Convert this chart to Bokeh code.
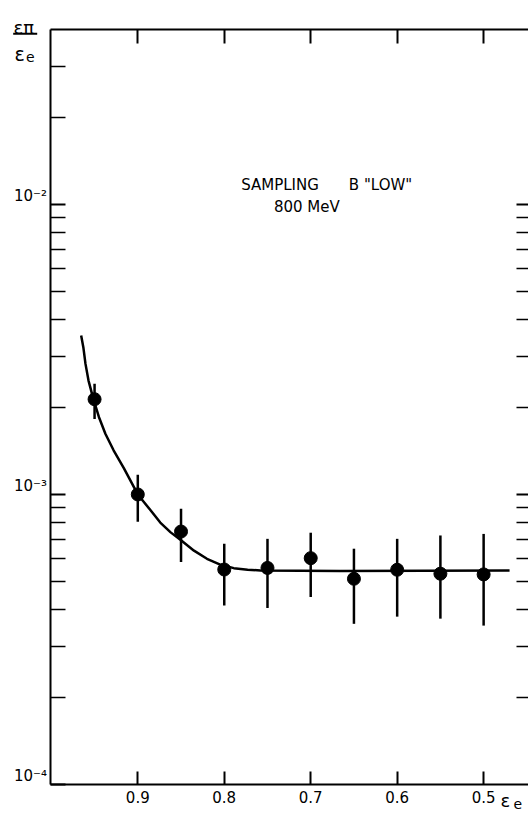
import math
from bokeh.plotting import figure
from bokeh.models import (Range1d, LinearAxis, LogAxis, FixedTicker, Label,
                          LabelSet, ColumnDataSource, CustomJSTickFormatter)
from bokeh.core.properties import value
from bokeh.embed import file_html
from bokeh.resources import INLINE

# ---------------- data ----------------
energy_frac = [0.95, 0.90, 0.85, 0.80, 0.75, 0.70, 0.65, 0.60, 0.55, 0.50]
ratio = [2.13e-3, 1.00e-3, 7.45e-4, 5.51e-4, 5.58e-4, 6.03e-4, 5.12e-4, 5.50e-4, 5.33e-4, 5.30e-4]
ratio_hi = [2.41e-3, 1.17e-3, 8.93e-4, 6.76e-4, 7.03e-4, 7.38e-4, 6.50e-4, 7.03e-4, 7.22e-4, 7.31e-4]
ratio_lo = [1.82e-3, 8.05e-4, 5.85e-4, 4.14e-4, 4.06e-4, 4.43e-4, 3.58e-4, 3.79e-4, 3.73e-4, 3.53e-4]

fit_x = [0.9655, 0.963, 0.9605, 0.957, 0.9515, 0.945, 0.9375, 0.928, 0.916, 0.900,
         0.885, 0.874, 0.862, 0.850, 0.835, 0.820, 0.804, 0.789, 0.773, 0.758, 0.666, 0.470]
fit_y = [3.53e-3, 3.22e-3, 2.82e-3, 2.47e-3, 2.14e-3, 1.85e-3, 1.62e-3, 1.42e-3, 1.23e-3, 1.00e-3,
         8.80e-4, 8.00e-4, 7.40e-4, 6.95e-4, 6.40e-4, 6.00e-4, 5.72e-4, 5.57e-4, 5.50e-4, 5.47e-4, 5.45e-4, 5.47e-4]

x_ticks = [0.9, 0.8, 0.7, 0.6, 0.5]
x_tick_labels = ["0.9", "0.8", "0.7", "0.6", "0.5"]
y_major = [1e-4, 1e-3, 1e-2]
y_tick_labels = ["10\u207b\u2074", "10\u207b\u00b3", "10\u207b\u00b2"]
y_minor_left = [2e-4, 3e-4, 4e-4, 5e-4, 6e-4, 7e-4, 8e-4, 9e-4,
                2e-3, 3e-3, 4e-3, 5e-3, 6e-3, 7e-3, 8e-3, 9e-3, 2e-2, 3e-2]
y_minor_right = [2e-4, 3e-4, 4e-4, 5e-4, 6e-4, 7e-4, 8e-4, 9e-4,
                 2e-3, 3e-3, 4e-3, 5e-3, 6e-3, 7e-3, 8e-3, 9e-3]

title_line1 = 'SAMPLING\u2003\u2003B "LOW"'
title_line2 = "800 MeV"

# ---------------- geometry ----------------
W, H = 528, 813
XL, XR = 1.0588, 0.4481        # x value at canvas left / right edge
YT, YB = 0.0505, 7.94e-5       # y value at canvas top / bottom edge
X_AXIS_LEFT = 1.0015           # where the left frame line sits
Y_BOTTOM, Y_TOP = 1e-4, 4e-2   # bottom / top frame lines
FONT = "DejaVu Sans"


def dx(px):
    return XL + px * (XR - XL) / W


def dy(py):
    lt, lb = math.log10(YT), math.log10(YB)
    return 10 ** (lt - py * (lt - lb) / H)


p = figure(width=W, height=H,
           x_range=Range1d(XL, XR), y_range=Range1d(YB, YT),
           y_axis_type="log", output_backend="svg", toolbar_location=None,
           min_border=0, min_border_left=0, min_border_right=0,
           min_border_top=0, min_border_bottom=0,
           background_fill_color="white", border_fill_color="white")
p.outline_line_color = None
p.grid.visible = False

blank = CustomJSTickFormatter(code="return ''")


def style(ax, tin, minor_in, line=True):
    ax.axis_line_color = "black" if line else None
    ax.axis_line_width = 2
    ax.major_tick_in = tin
    ax.major_tick_out = 0
    ax.major_tick_line_width = 2
    ax.major_tick_line_color = "black"
    ax.minor_tick_in = minor_in
    ax.minor_tick_out = 0
    ax.minor_tick_line_width = 1.6
    ax.minor_tick_line_color = "black"
    ax.axis_label = None


# bottom axis (with its tick labels)
xb = p.xaxis[0]
xb.ticker = FixedTicker(ticks=x_ticks, minor_ticks=[])
xb.fixed_location = Y_BOTTOM
xb.bounds = (XR, X_AXIS_LEFT)
style(xb, 13, 0)
xb.major_label_overrides = dict(zip(x_ticks, x_tick_labels))
xb.major_label_text_font = FONT
xb.major_label_text_font_size = "15px"
xb.major_label_text_color = "black"
xb.major_label_standoff = 7

# left axis (labels drawn by a LabelSet so they sit just above each tick)
yl = p.yaxis[0]
yl.ticker = FixedTicker(ticks=y_major, minor_ticks=y_minor_left)
yl.fixed_location = X_AXIS_LEFT
yl.bounds = (Y_BOTTOM, Y_TOP)
style(yl, 15, 15)
yl.formatter = blank
yl.major_label_text_color = None

# top axis
xt = LinearAxis(ticker=FixedTicker(ticks=x_ticks, minor_ticks=[]),
                fixed_location=Y_TOP, bounds=(XR, X_AXIS_LEFT), formatter=blank)
style(xt, 14, 0)
xt.major_label_text_color = None
p.add_layout(xt, "above")

# right side: ticks only
yr = LogAxis(ticker=FixedTicker(ticks=[1e-3, 1e-2], minor_ticks=y_minor_right),
             fixed_location=XR, bounds=(Y_BOTTOM, Y_TOP), formatter=blank)
style(yr, 12, 12, line=False)
yr.major_label_text_color = None
p.add_layout(yr, "right")

# ---------------- marks ----------------
p.segment(x0=energy_frac, y0=ratio_lo, x1=energy_frac, y1=ratio_hi,
          line_color="black", line_width=2.5)
p.line(fit_x, fit_y, line_color="black", line_width=2.5)
p.scatter(energy_frac, ratio, size=13, color="black")

# ---------------- y tick labels ----------------
ysrc = ColumnDataSource(dict(x=[X_AXIS_LEFT] * len(y_major), y=y_major, text=y_tick_labels))
p.add_layout(LabelSet(x="x", y="y", text="text", source=ysrc, text_align="right",
                      text_baseline="alphabetic", x_offset=-3, y_offset=3,
                      text_font=value(FONT), text_font_size="15px", text_color="black"))


def lab(px, py, txt, size, align="left"):
    p.add_layout(Label(x=dx(px), y=dy(py), text=txt, text_font=FONT,
                       text_font_size=f"{size}px", text_align=align,
                       text_baseline="alphabetic", text_color="black"))


# annotation text
lab(240.7, 184, title_line1, 15)
lab(306.3, 206.7, title_line2, 15, "center")

# y axis label (fraction)
lab(13, 27, "\u03b5\u03c0", 18)
p.segment(x0=[dx(12.7)], y0=[dy(33.3)], x1=[dx(36.7)], y1=[dy(33.3)],
          line_color="black", line_width=2)
lab(14, 53, "\u03b5", 19)
lab(25.5, 56.5, "e", 14)

# x axis label
lab(500, 800, "\u03b5", 18)
lab(513, 803, "e", 14)

open("out.html", "w").write(file_html(p, INLINE, "chart"))
